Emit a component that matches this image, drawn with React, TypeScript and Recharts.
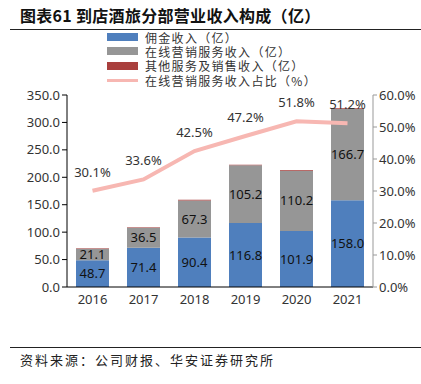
import React from 'react';
import {
  ComposedChart,
  Bar,
  Line,
  XAxis,
  YAxis,
  LabelList,
} from 'recharts';

const BLUE = '#4f7fbd';
const GRAY = '#969696';
const RED = '#a93f3d';
const PINK = '#f7b7b2';
const TICK_FONT = '"Noto Sans", sans-serif';
const CJK_FONT = '"Noto Sans CJK SC", sans-serif';

const years = ['2016', '2017', '2018', '2019', '2020', '2021'];
const commission = [48.7, 71.4, 90.4, 116.8, 101.9, 158.0];
const marketing = [21.1, 36.5, 67.3, 105.2, 110.2, 166.7];
const other = [1.0, 1.1, 1.4, 1.0, 1.1, 1.2];
const marketingShare = [30.1, 33.6, 42.5, 47.2, 51.8, 51.2];

const leftTicks = [0, 50, 100, 150, 200, 250, 300, 350];
const rightTicks = [0, 10, 20, 30, 40, 50, 60];
const boundaryTicks = [0, 1, 2, 3, 4, 5, 6];

const legendItems = [
  { name: '佣金收入（亿）', color: BLUE, kind: 'bar' },
  { name: '在线营销服务收入（亿）', color: GRAY, kind: 'bar' },
  { name: '其他服务及销售收入（亿）', color: RED, kind: 'bar' },
  { name: '在线营销服务收入占比（%）', color: PINK, kind: 'line' },
];

const data = years.map((year, i) => ({
  year,
  commission: commission[i],
  marketing: marketing[i],
  other: other[i],
  share: marketingShare[i],
}));

const tickStyle = { fontSize: 13, fill: '#333', fontFamily: TICK_FONT };

export default function App() {
  return (
    <div style={{ position: 'absolute', left: 0, top: 0, width: 421, height: 384, background: '#fff' }}>
      <div
        style={{
          position: 'absolute',
          left: 20,
          top: 5,
          fontFamily: CJK_FONT,
          fontWeight: 700,
          fontSize: 16,
          letterSpacing: 0.3,
          lineHeight: '20px',
          color: '#111',
          whiteSpace: 'nowrap',
        }}
      >
        图表61 到店酒旅分部营业收入构成（亿）
      </div>
      <div style={{ position: 'absolute', left: 10, top: 29, width: 411, height: 1, background: '#222' }} />

      <ComposedChart
        width={421}
        height={384}
        data={data}
        margin={{ top: 95, right: 0, bottom: 67, left: 0 }}
      >
        <XAxis
          xAxisId="edge"
          type="number"
          domain={[0, 6]}
          ticks={boundaryTicks}
          tickFormatter={() => ''}
          tickSize={5}
          height={0}
          axisLine={false}
          tickLine={{ stroke: '#000' }}
        />
        <XAxis
          xAxisId="cat"
          dataKey="year"
          height={30}
          tickLine={false}
          axisLine={{ stroke: '#000' }}
          tick={tickStyle}
        />
        <YAxis
          yAxisId="left"
          width={67}
          domain={[0, 350]}
          ticks={leftTicks}
          tickFormatter={(v: number) => v.toFixed(1)}
          tickSize={5}
          axisLine={{ stroke: '#000' }}
          tickLine={{ stroke: '#000' }}
          tick={tickStyle}
        />
        <YAxis
          yAxisId="right"
          orientation="right"
          width={48}
          domain={[0, 60]}
          ticks={rightTicks}
          tickFormatter={(v: number) => v.toFixed(1) + '%'}
          tickSize={4}
          axisLine={{ stroke: '#999' }}
          tickLine={{ stroke: '#999' }}
          tick={tickStyle}
        />
        <Bar xAxisId="cat" yAxisId="left" dataKey="commission" stackId="s" fill={BLUE} barSize={33} isAnimationActive={false}>
          <LabelList dataKey="commission" position="center" formatter={(v: number) => v.toFixed(1)} style={{ fontSize: 13, fill: '#111', fontFamily: TICK_FONT }} />
        </Bar>
        <Bar xAxisId="cat" yAxisId="left" dataKey="marketing" stackId="s" fill={GRAY} barSize={33} isAnimationActive={false}>
          <LabelList dataKey="marketing" position="center" formatter={(v: number) => v.toFixed(1)} style={{ fontSize: 13, fill: '#111', fontFamily: TICK_FONT }} />
        </Bar>
        <Bar xAxisId="cat" yAxisId="left" dataKey="other" stackId="s" fill={RED} barSize={33} isAnimationActive={false} />
        <Line
          xAxisId="cat"
          yAxisId="right"
          type="linear"
          dataKey="share"
          stroke={PINK}
          strokeWidth={4}
          dot={false}
          isAnimationActive={false}
        >
          <LabelList dataKey="share" position="top" offset={14} formatter={(v: number) => v.toFixed(1) + '%'} style={{ fontSize: 13, fill: '#333', fontFamily: TICK_FONT }} />
        </Line>
      </ComposedChart>

      <div style={{ position: 'absolute', left: 107, top: 30 }}>
        {legendItems.map((item) => (
          <div key={item.name} style={{ display: 'flex', alignItems: 'center', height: 14.3 }}>
            <div
              style={{
                width: 31,
                height: item.kind === 'bar' ? 8 : 3,
                background: item.color,
                marginRight: 7,
              }}
            />
            <span
              style={{
                fontFamily: CJK_FONT,
                fontSize: 12,
                letterSpacing: 1.3,
                color: '#333',
                lineHeight: '13px',
                whiteSpace: 'nowrap',
              }}
            >
              {item.name}
            </span>
          </div>
        ))}
      </div>

      <div style={{ position: 'absolute', left: 10, top: 347, width: 411, height: 1, background: '#222' }} />
      <div
        style={{
          position: 'absolute',
          left: 20,
          top: 350,
          fontFamily: CJK_FONT,
          fontSize: 13,
          letterSpacing: 2,
          color: '#222',
          whiteSpace: 'nowrap',
        }}
      >
        资料来源：公司财报、华安证券研究所
      </div>
    </div>
  );
}
